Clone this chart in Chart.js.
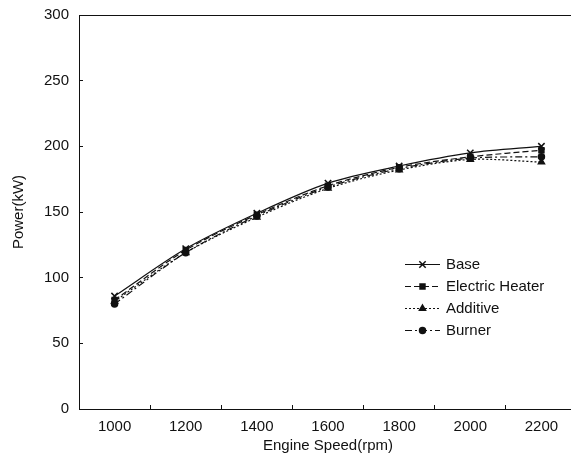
<!DOCTYPE html>
<html>
<head>
<meta charset="utf-8">
<script src="https://cdn.jsdelivr.net/npm/chart.js@4/dist/chart.umd.min.js"></script>
<style>
  html, body { margin: 0; padding: 0; background: #fff; overflow: hidden; }
  canvas { display: block; }
</style>
</head>
<body>
<canvas id="power" width="583" height="463"></canvas>
<script>
// Engine speed (rpm) and power output (kW) per heating method
const speeds = [1000, 1200, 1400, 1600, 1800, 2000, 2200];
const basePower = [86, 122, 149, 172, 185, 195, 200];
const heaterPower = [83, 121, 148, 170, 184, 192, 197];
const additivePower = [82, 119, 146, 168, 182, 190, 188];
const burnerPower = [80, 119, 147, 169, 183, 191, 192];
const seriesNames = ['Base', 'Electric Heater', 'Additive', 'Burner'];
const yTicks = [0, 50, 100, 150, 200, 250, 300];

const FONT = { family: '"Liberation Sans", Arial, sans-serif', size: 15 };
const INK = '#111';

function series(label, values, dash, pointStyle, radius) {
    return {
        label: label,
        data: speeds.map((s, i) => ({ x: s, y: values[i] })),
        borderColor: INK,
        backgroundColor: INK,
        borderWidth: 1.2,
        borderDash: dash,
        pointStyle: pointStyle,
        pointRadius: radius,
        pointBorderWidth: 1.5,
        pointBackgroundColor: INK,
        pointBorderColor: INK,
        tension: 0.3,
        fill: false
    };
}

// frame line along the top of the plot
const topBorder = {
    id: 'topBorder',
    afterDraw(chart) {
        const { ctx, chartArea } = chart;
        ctx.save();
        ctx.strokeStyle = INK;
        ctx.lineWidth = 1;
        ctx.beginPath();
        ctx.moveTo(chartArea.left, chartArea.top + 0.5);
        ctx.lineTo(chartArea.right, chartArea.top + 0.5);
        ctx.stroke();
        ctx.restore();
    }
};

// legend with a line sample and marker per series, placed inside the plot
const lineLegend = {
    id: 'lineLegend',
    afterDraw(chart) {
        const ctx = chart.ctx;
        const x0 = 405, x1 = 440, textX = 446, y0 = 264, step = 22;
        ctx.save();
        chart.data.datasets.forEach((ds, i) => {
            const y = y0 + i * step;
            ctx.strokeStyle = INK;
            ctx.lineWidth = 1.2;
            ctx.setLineDash(ds.borderDash || []);
            ctx.beginPath();
            ctx.moveTo(x0, y + 0.5);
            ctx.lineTo(x1, y + 0.5);
            ctx.stroke();
            ctx.setLineDash([]);
            ctx.fillStyle = INK;
            ctx.lineWidth = 1.5;
            Chart.helpers.drawPoint(ctx, {
                pointStyle: ds.pointStyle,
                radius: ds.pointRadius,
                rotation: 0,
                borderWidth: 1.5
            }, (x0 + x1) / 2, y + 0.5);
            ctx.fillStyle = INK;
            ctx.font = FONT.size + 'px ' + FONT.family;
            ctx.textBaseline = 'middle';
            ctx.textAlign = 'left';
            ctx.fillText(ds.label, textX, y + 1);
        });
        ctx.restore();
    }
};

new Chart(document.getElementById('power'), {
    type: 'line',
    data: {
        datasets: [
            series(seriesNames[0], basePower, [], 'crossRot', 4.5),
            series(seriesNames[1], heaterPower, [6, 3], 'rect', 3.5),
            series(seriesNames[2], additivePower, [2, 2], 'triangle', 3.5),
            series(seriesNames[3], burnerPower, [7, 3, 2, 3], 'circle', 3)
        ]
    },
    options: {
        responsive: false,
        animation: false,
        layout: { padding: { top: 15, right: 0, left: 0, bottom: 0 } },
        plugins: {
            legend: { display: false },
            tooltip: { enabled: false }
        },
        scales: {
            x: {
                type: 'linear',
                min: 900,
                max: 2300,
                afterFit(scale) {
                    scale.height = 54;
                    scale.paddingLeft = 0;
                    scale.paddingRight = 0;
                },
                afterBuildTicks(scale) {
                    const t = [];
                    for (let v = 900; v <= 2300; v += 100) t.push({ value: v });
                    scale.ticks = t;
                },
                ticks: {
                    autoSkip: false,
                    maxRotation: 0,
                    color: INK,
                    font: FONT,
                    padding: 13,
                    callback: v => speeds.includes(v) ? String(v) : ''
                },
                grid: {
                    drawOnChartArea: false,
                    tickLength: -4,
                    tickColor: c => (c.tick && c.tick.value % 200 === 100) ? INK : 'rgba(0,0,0,0)'
                },
                border: { display: true, color: INK, width: 1 },
                title: {
                    display: true,
                    text: 'Engine Speed(rpm)',
                    color: INK,
                    font: FONT,
                    padding: { top: 8, bottom: 8 }
                }
            },
            y: {
                min: 0,
                max: 300,
                afterFit(scale) {
                    scale.width = 79;
                    scale.paddingTop = 0;
                    scale.paddingBottom = 0;
                },
                afterBuildTicks(scale) {
                    scale.ticks = yTicks.map(v => ({ value: v }));
                },
                ticks: {
                    color: INK,
                    font: FONT,
                    padding: 14
                },
                grid: {
                    drawOnChartArea: false,
                    tickLength: -4,
                    tickColor: INK
                },
                border: { display: true, color: INK, width: 1 },
                title: {
                    display: true,
                    text: 'Power(kW)',
                    color: INK,
                    font: FONT,
                    padding: { top: 10, bottom: 10 }
                }
            }
        }
    },
    plugins: [topBorder, lineLegend]
});
</script>
</body>
</html>
